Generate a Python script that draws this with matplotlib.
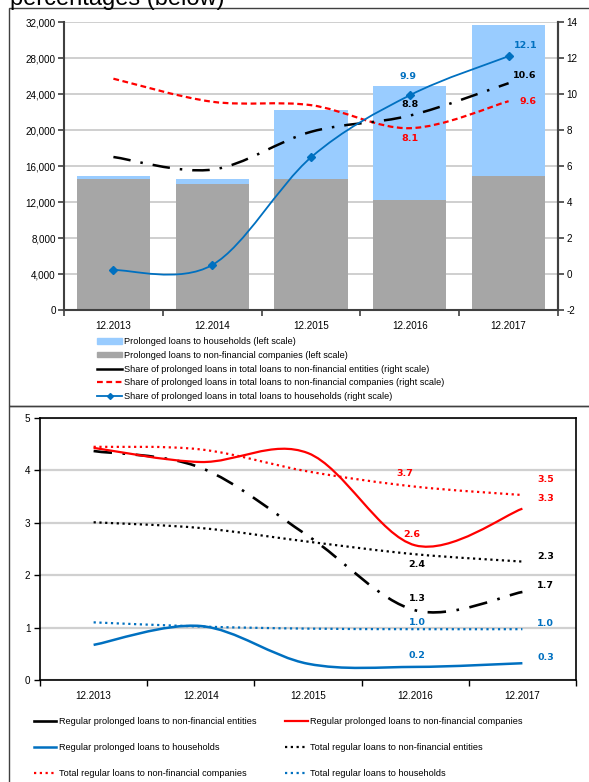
import numpy as np
import matplotlib
matplotlib.use("Agg")
import matplotlib.pyplot as plt
from matplotlib.path import Path
from matplotlib.patches import PathPatch, Rectangle
from matplotlib.lines import Line2D
from matplotlib.ticker import FuncFormatter, FixedLocator

plt.rcParams['font.family'] = ['Liberation Sans', 'DejaVu Sans']
plt.rcParams['axes.unicode_minus'] = False

# ---------------- data ----------------
periods = ["12.2013", "12.2014", "12.2015", "12.2016", "12.2017"]

# top chart (left scale, amounts)
loans_nfc = [14550, 14000, 14550, 12220, 14900]          # prolonged loans to non-financial companies
loans_hh = [300, 550, 7650, 12630, 16800]                 # prolonged loans to households
# top chart (right scale, %)
share_nfe = [6.5, 5.8, 7.9, 8.8, 10.6]
share_nfc = [10.85, 9.57, 9.38, 8.1, 9.6]
share_hh = [0.22, 0.5, 6.48, 9.93, 12.1]

# bottom chart (%)
reg_prol_nfe = [4.37, 4.05, 2.75, 1.33, 1.68]
reg_prol_nfc = [4.43, 4.16, 4.33, 2.57, 3.27]
reg_prol_hh = [0.67, 1.03, 0.31, 0.25, 0.32]
tot_reg_nfe = [3.01, 2.9, 2.64, 2.4, 2.26]
tot_reg_nfc = [4.45, 4.4, 3.98, 3.69, 3.53]
tot_reg_hh = [1.1, 1.02, 0.98, 0.97, 0.97]

top_legend = [
    "Prolonged loans to households (left scale)",
    "Prolonged loans to non-financial companies (left scale)",
    "Share of prolonged loans in total loans to non-financial entities (right scale)",
    "Share of prolonged loans in total loans to non-financial companies (right scale)",
    "Share of prolonged loans in total loans to households (right scale)",
]
bottom_legend = [
    "Regular prolonged loans to non-financial entities",
    "Regular prolonged loans to non-financial companies",
    "Regular prolonged loans to households",
    "Total regular loans to non-financial entities",
    "Total regular loans to non-financial companies",
    "Total regular loans to households",
]
title_text = "percentages (below)"

# ---------------- styles ----------------
BLUE = "#0070C0"
RED = "#FF0000"
LBLUE = "#99CCFF"
GRAY = "#A6A6A6"
GRID = "#CCCCCC"
TICKFS = 7.1
LEGFS = 6.6
LABFS = 6.8


def smooth_path(xs, ys):
    pts = np.column_stack([xs, ys]).astype(float)
    n = len(pts)
    verts = [pts[0]]
    codes = [Path.MOVETO]
    for i in range(n - 1):
        p0 = pts[i - 1] if i > 0 else pts[i]
        p1 = pts[i]
        p2 = pts[i + 1]
        p3 = pts[i + 2] if i + 2 < n else pts[i + 1]
        c1 = p1 + (p2 - p0) / 6.0
        c2 = p2 - (p3 - p1) / 6.0
        verts += [c1, c2, p2]
        codes += [Path.CURVE4] * 3
    return Path(verts, codes)


def add_smooth(ax, ys, color, lw, ls, capstyle="butt", zorder=4):
    xs = np.arange(len(ys))
    patch = PathPatch(smooth_path(xs, ys), fill=False, edgecolor=color, lw=lw,
                      linestyle=ls, capstyle=capstyle, zorder=zorder)
    ax.add_patch(patch)
    return patch


fig = plt.figure(figsize=(5.89, 7.82), dpi=100)
W, H = 589, 782


def fx(px):
    return px / W


def fy(py):
    return 1 - py / H


# frames
fig.add_artist(Rectangle((fx(9), fy(406)), 1.0, fy(8) - fy(406), transform=fig.transFigure,
                         fill=False, edgecolor="#404040", lw=1.0))
fig.add_artist(Rectangle((fx(9), -0.05), 1.0, fy(406) + 0.05, transform=fig.transFigure,
                         fill=False, edgecolor="#404040", lw=1.0))
fig.text(fx(10), fy(5), title_text, fontsize=17, va="baseline", ha="left")

# ---------------- top chart ----------------
ax = fig.add_axes([fx(64), fy(310), fx(558) - fx(64), fy(22) - fy(310)])
x = np.arange(len(periods))
b1 = ax.bar(x, loans_nfc, width=0.74, color=GRAY, zorder=2)
b2 = ax.bar(x, loans_hh, width=0.74, bottom=loans_nfc, color=LBLUE, zorder=2)
ax.set_xlim(-0.5, len(periods) - 0.5)
ax.set_ylim(0, 32000)
ax.yaxis.set_major_locator(FixedLocator(np.arange(0, 32001, 4000)))
ax.yaxis.set_major_formatter(FuncFormatter(lambda v, p: f"{int(v):,}"))
ax.grid(axis="y", color=GRID, lw=1.3, zorder=0)
ax.set_axisbelow(True)
ax.set_xticks(x)
ax.set_xticklabels(periods)
ax.set_xticks(np.arange(-0.5, len(periods), 1.0), minor=True)
ax.tick_params(axis="x", which="major", length=0, labelsize=TICKFS, pad=8)
ax.tick_params(axis="x", which="minor", length=4, width=1.2, color="#404040")
ax.tick_params(axis="y", length=4, width=1.2, color="#404040", labelsize=TICKFS, pad=2)
for s in ["top"]:
    ax.spines[s].set_visible(False)
for s in ["left", "bottom", "right"]:
    ax.spines[s].set_color("#404040")
    ax.spines[s].set_linewidth(1.5)

ax2 = ax.twinx()
ax2.set_ylim(-2, 14)
ax2.yaxis.set_major_locator(FixedLocator(np.arange(-2, 14.1, 2)))
ax2.tick_params(axis="y", length=4, width=1.2, color="#404040", labelsize=TICKFS, pad=2)
for s in ["top", "left", "bottom"]:
    ax2.spines[s].set_visible(False)
ax2.spines["right"].set_color("#404040")
ax2.spines["right"].set_linewidth(1.5)

add_smooth(ax2, share_nfc, RED, 1.6, (0, (2.6, 1.6)))
add_smooth(ax2, share_nfe, "black", 1.8, (0, (7, 4, 1, 4)))
add_smooth(ax2, share_hh, BLUE, 1.3, "-")
ax2.plot(x, share_hh, linestyle="none", marker="D", markersize=4.2, color=BLUE, zorder=5)


def lab(a, i, v, txt, color, dx, dy):
    a.annotate(txt, xy=(i, v), xytext=(dx * 0.72, dy * 0.72), textcoords="offset points",
               ha="center", va="center", fontsize=LABFS, fontweight="bold", color=color,
               family="DejaVu Sans", zorder=6)


lab(ax2, 4, share_hh[4], f"{share_hh[4]:.1f}", BLUE, 17, 11)
lab(ax2, 4, share_nfe[4], f"{share_nfe[4]:.1f}", "black", 16, 8)
lab(ax2, 4, share_nfc[4], f"{share_nfc[4]:.1f}", RED, 19, 0)
lab(ax2, 3, share_hh[3], "9.9", BLUE, -2, 19)
lab(ax2, 3, share_nfe[3], f"{share_nfe[3]:.1f}", "black", 0, 11)
lab(ax2, 3, share_nfc[3], f"{share_nfc[3]:.1f}", RED, 0, -10)

h_top = [
    Rectangle((0, 0), 1, 1, color=LBLUE),
    Rectangle((0, 0), 1, 1, color=GRAY),
    Line2D([], [], color="black", lw=1.8),
    Line2D([], [], color=RED, lw=1.6, linestyle=(0, (2.6, 1.6))),
    Line2D([], [], color=BLUE, lw=1.3, marker="D", markersize=3),
]
leg = fig.legend(h_top, top_legend, loc="upper left", bbox_to_anchor=(fx(97), fy(337)),
                 frameon=False, fontsize=LEGFS, handlelength=2.75, handleheight=0.55,
                 handletextpad=0.15, labelspacing=0.52, borderaxespad=0, borderpad=0)

# ---------------- bottom chart ----------------
bx = fig.add_axes([fx(40), fy(680), fx(576) - fx(40), fy(418) - fy(680)])
bx.set_xlim(-0.5, len(periods) - 0.5)
bx.set_ylim(0, 5)
bx.yaxis.set_major_locator(FixedLocator(np.arange(0, 5.1, 1)))
bx.grid(axis="y", color="#D0D0D0", lw=1.6, zorder=0)
bx.set_axisbelow(True)
bx.set_xticks(x)
bx.set_xticklabels(periods)
bx.set_xticks(np.arange(-0.5, len(periods), 1.0), minor=True)
bx.tick_params(axis="x", which="major", length=0, labelsize=TICKFS, pad=8)
bx.tick_params(axis="x", which="minor", length=4, width=1.0, color="black")
bx.tick_params(axis="y", length=4, width=1.0, labelsize=TICKFS, pad=3)
for s in bx.spines.values():
    s.set_color("black")
    s.set_linewidth(1.2)

DOT = (0, (1, 1.6))
add_smooth(bx, tot_reg_nfc, RED, 1.6, DOT)
add_smooth(bx, tot_reg_nfe, "black", 1.6, DOT)
add_smooth(bx, tot_reg_hh, BLUE, 1.6, DOT)
add_smooth(bx, reg_prol_nfe, "black", 1.9, (0, (7, 4, 1, 4)))
add_smooth(bx, reg_prol_nfc, RED, 1.6, "-")
add_smooth(bx, reg_prol_hh, BLUE, 1.8, "-")

lab(bx, 4, tot_reg_nfc[4], f"{tot_reg_nfc[4]:.1f}", RED, 23, 16)
lab(bx, 4, reg_prol_nfc[4], f"{reg_prol_nfc[4]:.1f}", RED, 23, 10)
lab(bx, 4, tot_reg_nfe[4], f"{tot_reg_nfe[4]:.1f}", "black", 23, 5)
lab(bx, 4, reg_prol_nfe[4], f"{reg_prol_nfe[4]:.1f}", "black", 23, 6)
lab(bx, 4, tot_reg_hh[4], f"{tot_reg_hh[4]:.1f}", BLUE, 23, 6)
lab(bx, 4, reg_prol_hh[4], f"{reg_prol_hh[4]:.1f}", BLUE, 23, 6)
lab(bx, 3, tot_reg_nfc[3], f"{tot_reg_nfc[3]:.1f}", RED, -10, 13)
lab(bx, 3, reg_prol_nfc[3], f"{reg_prol_nfc[3]:.1f}", RED, -3, 11)
lab(bx, 3, tot_reg_nfe[3], f"{tot_reg_nfe[3]:.1f}", "black", 2, -10)
lab(bx, 3, reg_prol_nfe[3], f"{reg_prol_nfe[3]:.1f}", "black", 2, 12)
lab(bx, 3, tot_reg_hh[3], f"{tot_reg_hh[3]:.1f}", BLUE, 2, 7)
lab(bx, 3, reg_prol_hh[3], f"{reg_prol_hh[3]:.1f}", BLUE, 2, 11)

h_b = [
    Line2D([], [], color="black", lw=1.9),
    Line2D([], [], color=RED, lw=1.6),
    Line2D([], [], color=BLUE, lw=1.8),
    Line2D([], [], color="black", lw=1.6, linestyle=DOT),
    Line2D([], [], color=RED, lw=1.6, linestyle=DOT),
    Line2D([], [], color=BLUE, lw=1.6, linestyle=DOT),
]
order = [0, 2, 4, 1, 3, 5]
leg2 = fig.legend([h_b[i] for i in order], [bottom_legend[i] for i in order], ncol=2,
                  loc="upper left", bbox_to_anchor=(fx(34), fy(717.5)), frameon=False,
                  fontsize=LEGFS, handlelength=2.45, handletextpad=0.3, labelspacing=1.85,
                  columnspacing=3.1, borderaxespad=0, borderpad=0)

fig.savefig("out.png", dpi=100)
